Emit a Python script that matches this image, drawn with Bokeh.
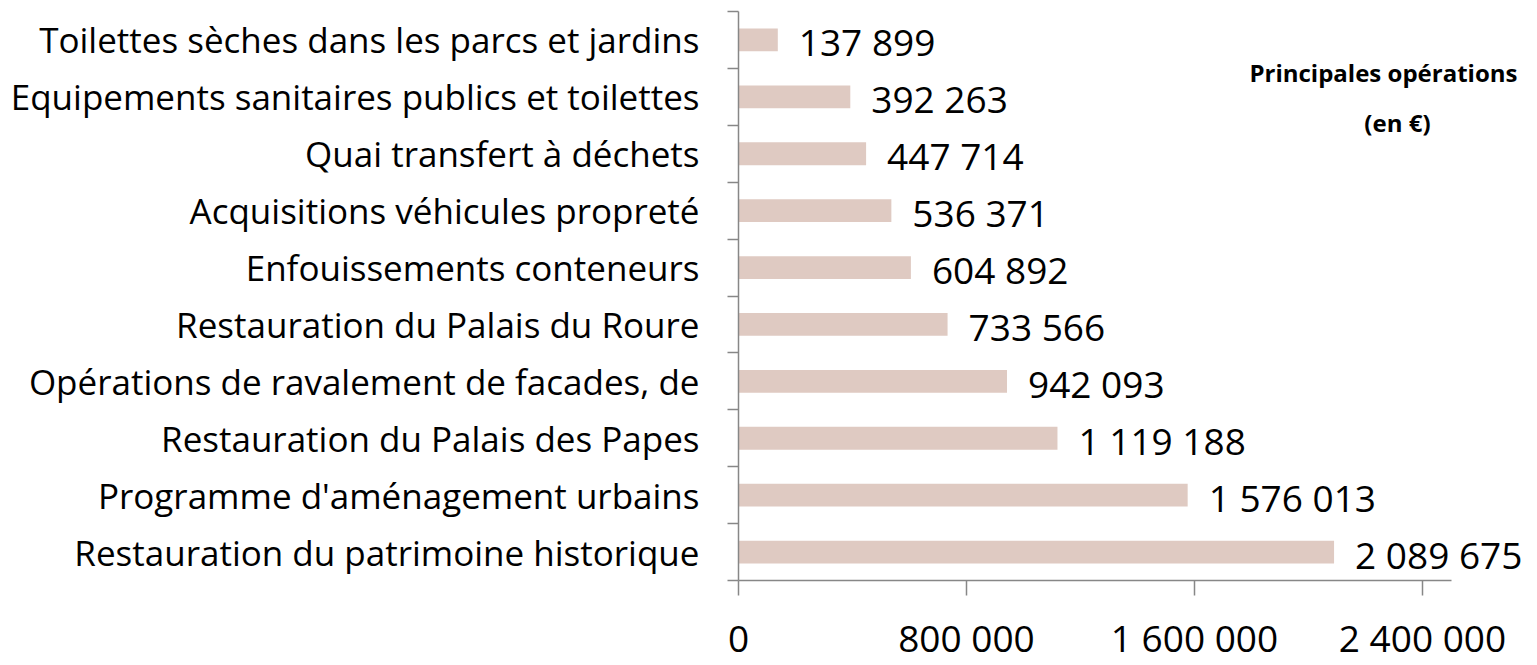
from bokeh.plotting import figure
from bokeh.models import ColumnDataSource, FixedTicker, Range1d, Label
from bokeh.core.properties import value
from bokeh.embed import file_html
from bokeh.resources import INLINE

# ---- data (top to bottom as in the chart) ----
categories = [
    "Toilettes sèches dans les parcs et jardins",
    "Equipements sanitaires publics et toilettes",
    "Quai transfert à déchets",
    "Acquisitions véhicules propreté",
    "Enfouissements conteneurs",
    "Restauration du Palais du Roure",
    "Opérations de ravalement de facades, de",
    "Restauration du Palais des Papes",
    "Programme d'aménagement urbains",
    "Restauration du patrimoine historique",
]
amounts = [137899, 392263, 447714, 536371, 604892, 733566, 942093, 1119188, 1576013, 2089675]
x_ticks = [0, 800000, 1600000, 2400000]
x_tick_labels = ["0", "800 000", "1 600 000", "2 400 000"]
title_lines = ["Principales opérations", "(en €)"]

n = len(categories)
ypos = [n - 1 - i for i in range(n)]  # top item at highest position
labels = [f"{v:,}".replace(",", " ") for v in amounts]

src = ColumnDataSource(dict(y=ypos, v=amounts, cat=categories, lab=labels))

FONT = "Open Sans"
AXIS_COL = "#878787"
BAR_COL = "#DFCAC2"

p = figure(width=1537, height=665, output_backend="svg", toolbar_location=None,
           x_range=Range1d(0, 2803500), y_range=Range1d(-0.5, n - 0.5),
           min_border_left=738, min_border_top=11, min_border_right=0, min_border_bottom=83)
p.background_fill_color = "white"
p.border_fill_color = "white"
p.outline_line_color = None
p.xgrid.visible = False
p.ygrid.visible = False

p.hbar(y="y", right="v", left=0, height=0.4, source=src, fill_color=BAR_COL, line_color=None)
p.text(x="v", y="y", text="lab", source=src, x_offset=21, y_offset=2,
       text_font=value(FONT), text_font_size="37px", text_baseline="middle",
       text_align="left", text_color="black")

# x axis
xa = p.xaxis[0]
xa.ticker = FixedTicker(ticks=x_ticks, minor_ticks=[])
xa.major_label_overrides = {t: l for t, l in zip(x_ticks, x_tick_labels)}
xa.bounds = (-77000, 2500000)
xa.axis_line_color = AXIS_COL
xa.axis_line_width = 1.5
xa.major_tick_line_color = AXIS_COL
xa.major_tick_line_width = 1.5
xa.major_tick_out = 15
xa.major_tick_in = 0
xa.minor_tick_line_color = None
xa.major_label_standoff = 16
xa.major_label_text_font = FONT
xa.major_label_text_font_size = "37px"
xa.major_label_text_color = "black"

# y axis: labels at category centres, ticks at category boundaries
ya = p.yaxis[0]
ya.ticker = FixedTicker(ticks=list(range(n)), minor_ticks=[k - 0.5 for k in range(n + 1)])
ya.major_label_overrides = {yy: c for yy, c in zip(ypos, categories)}
ya.axis_line_color = AXIS_COL
ya.axis_line_width = 1.5
ya.major_tick_line_color = None
ya.major_tick_out = 0
ya.major_tick_in = 0
ya.minor_tick_line_color = AXIS_COL
ya.minor_tick_line_width = 1.5
ya.minor_tick_out = 11
ya.minor_tick_in = 0
ya.major_label_standoff = 28
ya.major_label_text_font = FONT
ya.major_label_text_font_size = "35px"
ya.major_label_text_color = "black"

# title block (two bold lines, right side)
p.add_layout(Label(x=2263000, y=8.43, text=title_lines[0], text_font=FONT,
                   text_font_style="bold", text_font_size="24px", text_align="center",
                   text_baseline="middle", text_color="black"))
p.add_layout(Label(x=2312000, y=7.55, text=title_lines[1], text_font=FONT,
                   text_font_style="bold", text_font_size="24px", text_align="center",
                   text_baseline="middle", text_color="black"))

open("out.html", "w").write(file_html(p, INLINE))
